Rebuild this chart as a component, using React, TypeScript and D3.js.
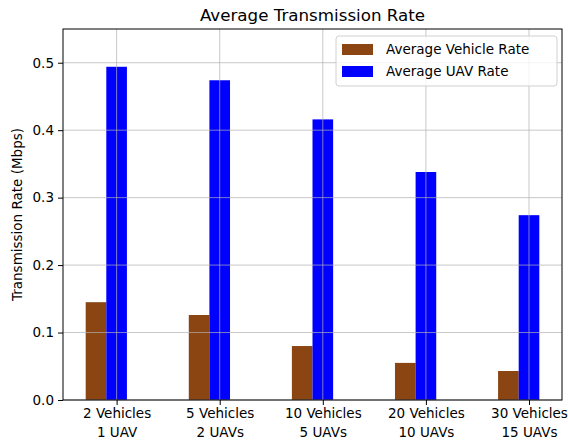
import { useEffect, useRef } from 'react';
import * as d3 from 'd3';

const categories = ['2 Vehicles\n1 UAV', '5 Vehicles\n2 UAVs', '10 Vehicles\n5 UAVs', '20 Vehicles\n10 UAVs', '30 Vehicles\n15 UAVs'];
const vehicleRate = [0.145, 0.126, 0.080, 0.055, 0.043];
const uavRate = [0.494, 0.474, 0.416, 0.338, 0.274];
const yTicks = [0.0, 0.1, 0.2, 0.3, 0.4, 0.5];
const seriesNames = ['Average Vehicle Rate', 'Average UAV Rate'];
const seriesColors = ['#8b4513', '#0000ff'];

const App = () => {
    const ref = useRef<SVGSVGElement>(null);

    useEffect(() => {
        const svg = d3.select(ref.current);
        svg.selectAll('*').remove();
        const width = 568;
        const height = 440;
        const margin = { top: 29, right: 6, bottom: 40, left: 63 };
        const font = 'DejaVu Sans';
        const barW = 0.2;

        const x = d3.scaleLinear()
            .domain([-0.52, 4.32])
            .range([margin.left, width - margin.right]);

        const y = d3.scaleLinear()
            .domain([0, 0.55])
            .range([height - margin.bottom, margin.top]);

        svg.append('rect')
            .attr('width', width).attr('height', height).attr('fill', '#fff');

        // bars
        const series = [vehicleRate, uavRate];
        series.forEach((vals, s) => {
            svg.append('g')
                .attr('fill', seriesColors[s])
                .selectAll('rect').data(vals).enter().append('rect')
                .attr('x', (d, i) => x(i - 0.3 + s * barW))
                .attr('y', d => y(d))
                .attr('width', x(barW) - x(0))
                .attr('height', d => y(0) - y(d));
        });

        // grid (drawn above bars like matplotlib)
        const grid = svg.append('g')
            .attr('stroke', '#b0b0b0')
            .attr('stroke-opacity', 0.7)
            .attr('stroke-width', 1);
        grid.selectAll('.gx').data(categories).enter().append('line')
            .attr('x1', (d, i) => x(i)).attr('x2', (d, i) => x(i))
            .attr('y1', margin.top).attr('y2', height - margin.bottom);
        grid.selectAll('.gy').data(yTicks).enter().append('line')
            .attr('x1', margin.left).attr('x2', width - margin.right)
            .attr('y1', d => y(d)).attr('y2', d => y(d));

        // frame
        svg.append('rect')
            .attr('x', margin.left).attr('y', margin.top)
            .attr('width', width - margin.right - margin.left)
            .attr('height', height - margin.bottom - margin.top)
            .attr('fill', 'none').attr('stroke', '#000').attr('stroke-width', 1);

        // y axis
        const yAxis = svg.append('g')
            .attr('transform', `translate(${margin.left},0)`)
            .call(d3.axisLeft(y).tickValues(yTicks).tickFormat(d3.format('.1f')).tickSize(5).tickPadding(4));
        yAxis.select('.domain').remove();
        yAxis.selectAll('text').attr('font-family', font).attr('font-size', 13.5).attr('fill', '#000');

        // x axis
        const xAxis = svg.append('g')
            .attr('transform', `translate(0,${height - margin.bottom})`)
            .call(d3.axisBottom(x).tickValues(d3.range(categories.length)).tickFormat(() => '').tickSize(5));
        xAxis.select('.domain').remove();
        xAxis.selectAll('.tick').each(function (d, i) {
            const t = d3.select(this).append('text')
                .attr('font-family', font).attr('font-size', 13.5).attr('fill', '#000')
                .attr('text-anchor', 'middle');
            categories[i].split('\n').forEach((line, k) => {
                t.append('tspan').attr('x', 0).attr('y', 18 + k * 19).text(line);
            });
        });

        // title
        svg.append('text')
            .attr('x', (margin.left + width - margin.right) / 2).attr('y', 20.5)
            .attr('text-anchor', 'middle')
            .attr('font-family', font).attr('font-size', 16.7)
            .text('Average Transmission Rate');

        // y label
        svg.append('text')
            .attr('transform', `translate(22,${(margin.top + height - margin.bottom) / 2}) rotate(-90)`)
            .attr('text-anchor', 'middle')
            .attr('font-family', font).attr('font-size', 13.5)
            .text('Transmission Rate (Mbps)');

        // legend
        const lg = svg.append('g').attr('transform', 'translate(336,36)');
        lg.append('rect')
            .attr('width', 221).attr('height', 50).attr('rx', 3)
            .attr('fill', '#fff').attr('fill-opacity', 0.8)
            .attr('stroke', '#d0d0d0');
        seriesNames.forEach((name, i) => {
            lg.append('rect')
                .attr('x', 6).attr('y', 8 + i * 22)
                .attr('width', 31).attr('height', 11)
                .attr('fill', seriesColors[i]);
            lg.append('text')
                .attr('x', 50).attr('y', 18 + i * 22)
                .attr('font-family', font).attr('font-size', 13.5)
                .text(name);
        });
    }, []);

    return (
        <svg ref={ref} width={568} height={440} style={{ position: 'absolute', left: 0, top: 0 }} />
    );
};

export default App;
